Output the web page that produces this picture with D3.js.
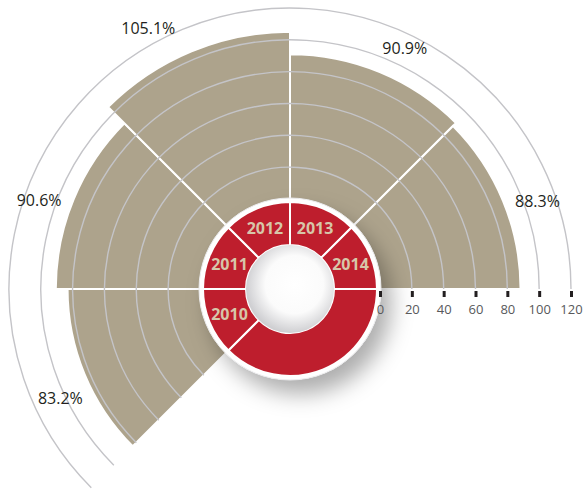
<!DOCTYPE html>
<html>
<head>
<meta charset="utf-8">
<script src="https://cdn.jsdelivr.net/npm/d3@7"></script>
<style>
  body { margin: 0; background: #fff; }
  svg text { font-family: "Open Sans", sans-serif; }
</style>
</head>
<body>
<div id="chart"></div>
<script>
// data
var years = ["2010", "2011", "2012", "2013", "2014"];
var values = [83.2, 90.6, 105.1, 90.9, 88.3];
var ringTicks = [20, 40, 60, 80, 100, 120];
var axisTicks = [0, 20, 40, 60, 80, 100, 120];

var width = 583, height = 491;
var cx = 290, cy = 289;
var donut = {inner: 44, outer: 87, ring: 91};
var deg = Math.PI / 180;
var startAngle = -135 * deg;   // 2010 starts lower left
var step = 45 * deg;

var svg = d3.select("#chart")
    .append("svg")
    .attr("width", width)
    .attr("height", height);

var defs = svg.append("defs");

var shadow = defs.append("filter")
    .attr("id", "shadow")
    .attr("x", "-50%").attr("y", "-50%")
    .attr("width", "200%").attr("height", "200%");
shadow.append("feDropShadow")
    .attr("dx", 10).attr("dy", 14)
    .attr("stdDeviation", 11)
    .attr("flood-color", "#000")
    .attr("flood-opacity", 0.32);

var hole = defs.append("radialGradient")
    .attr("id", "hole")
    .attr("cx", "55%").attr("cy", "45%").attr("r", "55%");
hole.append("stop").attr("offset", "0%").attr("stop-color", "#ffffff");
hole.append("stop").attr("offset", "60%").attr("stop-color", "#fbfbfb");
hole.append("stop").attr("offset", "100%").attr("stop-color", "#cfcfd2");

var g = svg.append("g")
    .attr("transform", "translate(" + cx + "," + cy + ")");

// radius scale: value -> distance from centre
var r = d3.scaleLinear()
    .domain([0, 120])
    .range([90, 281]);

// bars
var barArc = d3.arc()
    .innerRadius(r(0) - 20)
    .outerRadius(function(d) { return r(d.value); })
    .startAngle(function(d, i) { return startAngle + i * step; })
    .endAngle(function(d, i) { return startAngle + (i + 1) * step; });

var data = years.map(function(y, i) { return {year: y, value: values[i]}; });

g.selectAll(".bar")
    .data(data)
    .enter()
    .append("path")
    .attr("class", "bar")
    .attr("d", barArc)
    .attr("fill", "#ada38c")
    .attr("stroke", "#fff")
    .attr("stroke-width", 2);

// grid rings
var ringArc = d3.arc()
    .innerRadius(function(d) { return r(d); })
    .outerRadius(function(d) { return r(d); })
    .startAngle(startAngle)
    .endAngle(90 * deg);

g.selectAll(".ring")
    .data(ringTicks)
    .enter()
    .append("path")
    .attr("class", "ring")
    .attr("d", ringArc)
    .attr("fill", "none")
    .attr("stroke", "#c4c4c8")
    .attr("stroke-width", 1.4);

// value labels
var outerRing = r(ringTicks[ringTicks.length - 1]);
g.selectAll(".value")
    .data(data)
    .enter()
    .append("text")
    .attr("class", "value")
    .attr("text-anchor", "middle")
    .attr("dy", "0.35em")
    .attr("font-size", 16)
    .attr("fill", "#231f20")
    .attr("transform", function(d, i) {
        var a = startAngle + (i + 0.5) * step;
        var rr = r(d.value) + 32;
        // if it would sit on the outer ring, push it outside and turn a bit
        if (Math.abs(rr - outerRing) < 14) { rr = outerRing + 16; a -= 3 * deg; }
        // nudge away from the vertical
        a += (a > 0 ? 3 : -3) * deg;
        return "translate(" + (rr * Math.sin(a)) + "," + (-rr * Math.cos(a)) + ")";
    })
    .text(function(d) { return d.value.toFixed(1) + "%"; });

// axis along the right radius
var x = d3.scaleLinear()
    .domain([0, 120])
    .range([cx + r(0), cx + r(120)]);

var axis = svg.append("g")
    .attr("transform", "translate(0," + (cy + 2) + ")")
    .call(d3.axisBottom(x).tickValues(axisTicks).tickSize(6).tickPadding(8));
axis.select(".domain").remove();
axis.selectAll(".tick line")
    .attr("stroke", "#231f20")
    .attr("stroke-width", 3);
axis.selectAll(".tick text")
    .attr("font-family", "Open Sans, sans-serif")
    .attr("font-size", 13)
    .attr("fill", "#58595b");

// centre donut
var dg = g.append("g");

dg.append("circle")
    .attr("r", donut.ring)
    .attr("fill", "#fff")
    .attr("filter", "url(#shadow)");
dg.append("circle")
    .attr("r", donut.ring)
    .attr("fill", "none")
    .attr("stroke", "#ececee")
    .attr("stroke-width", 1);

var segArc = d3.arc()
    .innerRadius(donut.inner)
    .outerRadius(donut.outer);

var segs = data.map(function(d, i) {
    return {year: d.year, startAngle: startAngle + i * step, endAngle: startAngle + (i + 1) * step};
});
// the empty part of the ring, lower right
segs.push({year: "", startAngle: startAngle + years.length * step, endAngle: startAngle + 2 * Math.PI});

dg.selectAll(".seg")
    .data(segs)
    .enter()
    .append("path")
    .attr("class", "seg")
    .attr("d", segArc)
    .attr("fill", "#be1e2d")
    .attr("stroke", "#fff")
    .attr("stroke-width", 2);

dg.append("circle")
    .attr("r", donut.inner)
    .attr("fill", "url(#hole)");

dg.selectAll(".year")
    .data(segs.filter(function(d) { return d.year; }))
    .enter()
    .append("text")
    .attr("class", "year")
    .attr("transform", function(d) {
        var c = segArc.centroid(d);
        return "translate(" + c[0] + "," + c[1] + ")";
    })
    .attr("text-anchor", "middle")
    .attr("dy", "0.36em")
    .attr("font-size", 16)
    .attr("font-weight", "bold")
    .attr("fill", "#d7c6a9")
    .text(function(d) { return d.year; });
</script>
</body>
</html>
